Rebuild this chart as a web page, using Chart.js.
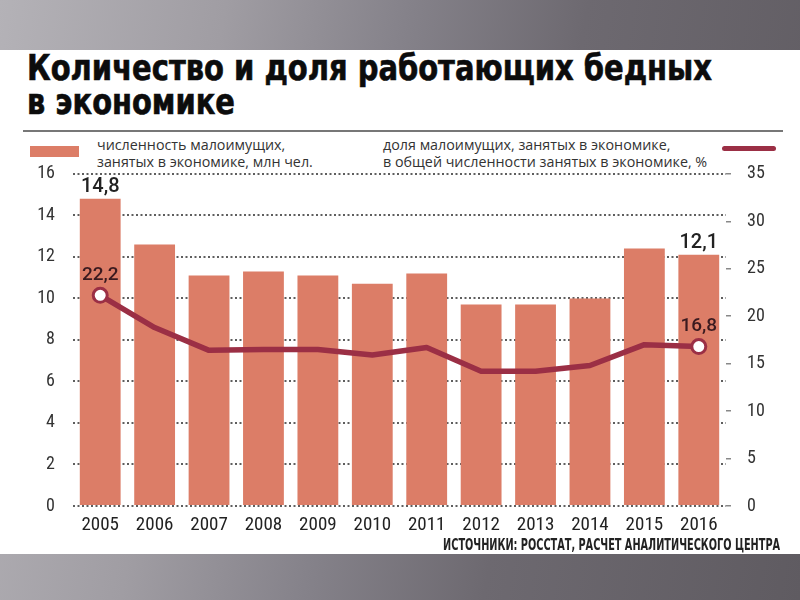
<!DOCTYPE html>
<html><head><meta charset="utf-8">
<script src="https://cdn.jsdelivr.net/npm/chart.js@4"></script>
<style>
html,body{margin:0;padding:0;width:800px;height:600px;overflow:hidden}
body{position:relative;background:linear-gradient(100deg,#b4b2b7 0%,#a09da3 25%,#85828a 45%,#6d6970 65%,#5f5b61 100%);font-family:'Open Sans',sans-serif}
#panel{position:absolute;left:0;top:50px;width:800px;height:504px;background:#fff}
.t{position:absolute;left:27px;font-family:'DejaVu Sans Condensed','DejaVu Sans',sans-serif;font-weight:bold;font-size:35px;line-height:34px;color:#0c0c0c;-webkit-text-stroke:0.6px #0c0c0c;white-space:nowrap;transform-origin:0 0}
#rule{position:absolute;left:23px;top:130px;width:760px;height:2px;background:#777}
.leg{position:absolute;font-size:14.3px;line-height:17px;color:#333;white-space:nowrap}
#sw1{position:absolute;left:30px;top:146px;width:49px;height:11px;background:#dc7d67}
#sw2{position:absolute;left:722px;top:146px;width:54px;height:5px;border-radius:3px;background:#9b2f45}
#src{position:absolute;font-family:'DejaVu Sans Condensed','DejaVu Sans',sans-serif;font-weight:bold;font-size:16px;line-height:16px;color:#222;white-space:nowrap;transform-origin:100% 0;right:20px;top:537px}
#wrap{position:absolute;left:0;top:145px;width:800px;height:405px}
</style></head>
<body>
<div id="panel"></div>
<div class="t" id="t1" style="top:51px">Количество и доля работающих бедных</div>
<div class="t" id="t2" style="top:85px">в экономике</div>
<div id="rule"></div>
<div id="sw1"></div>
<div class="leg" style="left:97px;top:136px">численность малоимущих,<br>занятых в экономике, млн чел.</div>
<div class="leg" style="left:383px;top:136px">доля малоимущих, занятых в экономике,<br>в общей численности занятых в экономике, %</div>
<div id="sw2"></div>
<div id="wrap"><canvas id="c"></canvas></div>
<div id="src">ИСТОЧНИКИ: РОССТАТ, РАСЧЕТ АНАЛИТИЧЕСКОГО ЦЕНТРА</div>
<script>
const years = ['2005','2006','2007','2008','2009','2010','2011','2012','2013','2014','2015','2016'];
const poorCount = [14.8, 12.6, 11.1, 11.3, 11.1, 10.7, 11.2, 9.7, 9.7, 10.0, 12.4, 12.1];
const poorShare = [22.2, 18.8, 16.4, 16.5, 16.5, 15.9, 16.7, 14.2, 14.2, 14.8, 17.0, 16.8];
const leftTicks = {min:0, max:16, step:2};
const rightTicks = {min:0, max:35, step:5};

function fitWidth(id, w){
  const el=document.getElementById(id);
  const r=el.getBoundingClientRect().width;
  el.style.transform='scaleX('+(w/r)+')';
}
fitWidth('t1',685); fitWidth('t2',208); fitWidth('src',337);

const BAR='#dc7d67', LINE='#9b2f45';
const numFont="'Roboto Condensed','Liberation Sans Narrow','DejaVu Sans Condensed',Roboto,sans-serif";
const fmt=v=>v.toFixed(1).replace('.',',');
const isEnd=(ctx)=>ctx.dataIndex===0||ctx.dataIndex===years.length-1;

const labelPlugin={
  id:'endLabels',
  afterDatasetsDraw(chart){
    const ctx=chart.ctx;
    ctx.save();
    ctx.textAlign='center';ctx.textBaseline='middle';
    const bm=chart.getDatasetMeta(1), lm=chart.getDatasetMeta(0);
    [0,years.length-1].forEach(i=>{
      const b=bm.data[i];
      ctx.font="500 20px Roboto, sans-serif";
      ctx.fillStyle='#222';
      ctx.fillText(fmt(poorCount[i]), b.x, b.y-12);
      const p=lm.data[i];
      ctx.font="500 19px Roboto, sans-serif";
      ctx.fillStyle='#3a1a1f';
      ctx.fillText(fmt(poorShare[i]), p.x, p.y-20);
    });
    ctx.restore();
  }
};

new Chart(document.getElementById('c'),{
  data:{
    labels:years,
    datasets:[
      {type:'line',data:poorShare,yAxisID:'y1',order:0,borderColor:LINE,borderWidth:5.5,
       borderJoinStyle:'round',borderCapStyle:'round',tension:0,
       pointRadius:c=>isEnd(c)?7:0,pointHoverRadius:c=>isEnd(c)?7:0,
       pointBackgroundColor:'#fff',pointBorderColor:LINE,pointBorderWidth:3},
      {type:'bar',data:poorCount,yAxisID:'y',order:1,backgroundColor:BAR,
       barPercentage:0.75,categoryPercentage:1}
    ]
  },
  options:{
    responsive:true,maintainAspectRatio:false,animation:false,
    layout:{padding:{top:13,left:0,right:0,bottom:0}},
    plugins:{legend:{display:false},tooltip:{enabled:false}},
    scales:{
      x:{grid:{display:false},border:{display:false},
         ticks:{font:{family:numFont,size:19},color:'#222',padding:0},
         afterFit:s=>{s.height=44;}},
      y:{position:'left',min:leftTicks.min,max:leftTicks.max,
         ticks:{stepSize:leftTicks.step,font:{family:numFont,size:18},color:'#333',padding:18},
         grid:{color:'#5e5e5e',lineWidth:2,drawTicks:false},
         border:{display:false,dash:[2,2.5]},
         afterFit:s=>{s.width=73;}},
      y1:{position:'right',min:rightTicks.min,max:rightTicks.max,
         ticks:{stepSize:rightTicks.step,font:{family:numFont,size:18},color:'#333',padding:16},
         grid:{drawOnChartArea:false,drawTicks:true,tickLength:5,color:'#888',lineWidth:1.5},
         border:{display:false},
         afterFit:s=>{s.width=74;}}
    }
  },
  plugins:[labelPlugin]
});
</script>
</body></html>
